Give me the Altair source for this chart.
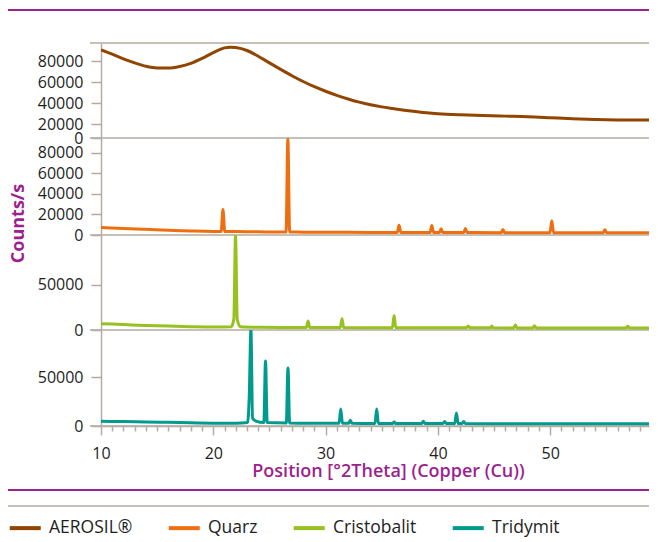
import altair as alt
import pandas as pd

# ---------------- data ----------------
SERIES = ["AEROSIL®", "Quarz", "Cristobalit", "Tridymit"]
COLORS = ["#914500", "#ef6f10", "#97c11f", "#009b8e"]

aerosil_x = [10, 11, 12, 13, 14, 15, 16, 17, 18, 19, 20, 21, 21.5, 22, 23, 24, 25, 26, 27, 28,
             29, 30, 31, 32, 33, 34, 35, 36, 37, 38, 39, 40, 42, 44, 46, 48, 50, 52, 54, 56, 58, 59.6]
aerosil_y = [90500, 86500, 82000, 78200, 75000, 73400, 73300, 74800, 77800, 82500, 88000, 92500,
             93200, 92800, 90000, 84500, 78200, 72000, 66000, 60500, 55500, 51200, 47300, 43800,
             40800, 38300, 36300, 34700, 33200, 31900, 30700, 29800, 28700, 28000, 27500, 27000,
             26000, 24900, 24200, 23800, 23700, 23800]

quarz_x = [10, 12, 14, 16, 18, 20, 20.7, 20.86, 21.02, 22, 24, 26.48, 26.64, 26.8, 28, 30, 32, 34,
           36.38, 36.54, 36.7, 39.3, 39.46, 39.62, 40.14, 40.29, 40.44, 42.3, 42.45, 42.6,
           45.64, 45.79, 45.94, 49.98, 50.14, 50.3, 54.72, 54.87, 55.02, 57, 59.6]
quarz_y = [7300, 6300, 5500, 4700, 4000, 3500, 3400, 24900, 3400, 3300, 3100, 2900, 94000, 2900,
           2800, 2700, 2600, 2500, 2500, 9500, 2500, 2400, 9300, 2400, 2400, 6000, 2400, 2400, 6300,
           2400, 2300, 5400, 2300, 2300, 14000, 2300, 2200, 5000, 2200, 2200, 2200]

cristo_x = [10, 12, 14, 16, 18, 20, 21.6, 21.83, 21.98, 22.13, 22.4, 24, 26, 28.29, 28.44, 28.59, 30,
            31.31, 31.46, 31.61, 33, 35.95, 36.1, 36.25, 38, 42.55, 42.7, 42.85, 44.65, 44.8, 44.95,
            46.75, 46.9, 47.05, 48.45, 48.6, 48.75, 52, 56.75, 56.9, 57.05, 59.6]
cristo_y = [7000, 6000, 5000, 4300, 3700, 3300, 3600, 12000, 104000, 12000, 3600, 3000, 2800, 2800,
            10000, 2800, 2700, 2700, 12500, 2700, 2600, 2600, 15800, 2600, 2500, 2400, 4500, 2400,
            2400, 4300, 2400, 2300, 5600, 2300, 2300, 4800, 2300, 2200, 2200, 4000, 2200, 2200]

tridy_x = [10, 12, 14, 16, 18, 20, 22, 23.05, 23.2, 23.35, 23.5, 23.8, 24.5, 24.65, 24.8, 26.5, 26.65,
           26.8, 28, 30, 31.2, 31.35, 31.5, 32.05, 32.2, 32.35, 34.4, 34.55, 34.7, 35.95, 36.1, 36.25,
           38.55, 38.7, 38.85, 40.45, 40.6, 40.75, 41.5, 41.65, 41.8, 42.15, 42.3, 42.45, 45, 50, 55, 59.6]
tridy_y = [4800, 4500, 4200, 3800, 3300, 2900, 2800, 3500, 30000, 99000, 8000, 5000, 3500, 66700,
           3500, 3000, 59500, 3000, 2800, 2700, 2700, 17500, 2700, 2700, 6000, 2700, 2600, 17500,
           2600, 2600, 4100, 2600, 2600, 5000, 2600, 2600, 4600, 2600, 2600, 13300, 2600, 2600,
           4500, 2500, 2400, 2400, 2300, 2300]

X_DOMAIN = [10, 58.8]
X_TICKS = list(range(10, 59))          # minor ticks every 1, labels at 10, 20, ...
AEROSIL_DOMAIN = [6667, 97143]
AEROSIL_TICKS = [6667, 20000, 40000, 60000, 80000]   # bottom tick is labelled "0"
QUARZ_DOMAIN = [0, 94600]
QUARZ_TICKS = [0, 20000, 40000, 60000, 80000]
CRISTO_DOMAIN = [0, 104400]
CRISTO_TICKS = [0, 50000]
TRIDY_DOMAIN = [0, 98600]
TRIDY_TICKS = [0, 50000]

# ---------------- style ----------------
PURPLE = "#9e1f8e"
GRAY = "#b4aba2"
TEXT = "#1e1e1e"
FONT = "Open Sans"
W = 548

color_scale = alt.Scale(domain=SERIES, range=COLORS)
legend = alt.Legend(title=None, orient="none", legendX=-84.5, legendY=476, direction="horizontal",
                    symbolType="M-3.1,0H3.1", symbolStrokeWidth=4, symbolSize=100,
                    labelFont=FONT, labelFontSize=17.5, labelColor=TEXT, labelOffset=15,
                    columnPadding=28, labelLimit=300)


def y_axis(ticks, label_expr=None, **extra):
    kw = dict(values=ticks, format="d", grid=False, domainColor=GRAY, domainWidth=1.5,
              tickColor=GRAY, tickWidth=1.5, tickSize=10, labelPadding=8, labelFont=FONT,
              labelFontSize=16, labelColor=TEXT, labelOverlap=False)
    if label_expr:
        kw["labelExpr"] = label_expr
    kw.update(extra)
    if "title" not in kw:
        kw["title"] = None
    return alt.Axis(**kw)


def panel(name, xs, ys, ydomain, yaxis, h, xaxis=None, top_rule=False, extra_layers=()):
    df = pd.DataFrame({"x": xs, "y": ys, "series": name})
    xs_scale = alt.Scale(domain=X_DOMAIN, nice=False, zero=False)
    ys_scale = alt.Scale(domain=ydomain, nice=False, zero=False)
    rule_vals = [ydomain[0], ydomain[1]] if top_rule else [ydomain[0]]
    frame_rule = alt.Chart(pd.DataFrame({"y": rule_vals})).mark_rule(
        color=GRAY, strokeWidth=1.5).encode(
        y=alt.Y("y:Q", scale=ys_scale, axis=yaxis), x=alt.value(-11), x2=alt.value(W))
    line = alt.Chart(df).mark_line(strokeWidth=3, interpolate="monotone", clip=True).encode(
        x=alt.X("x:Q", scale=xs_scale, axis=xaxis),
        y=alt.Y("y:Q", scale=ys_scale, axis=yaxis),
        color=alt.Color("series:N", scale=color_scale, legend=legend),
    )
    return alt.layer(frame_rule, *extra_layers, line).properties(width=W, height=h)


# top decoration (AEROSIL panel)
top_purple = alt.Chart(pd.DataFrame({"a": [0]})).mark_rule(color=PURPLE, strokeWidth=2).encode(
    x=alt.value(-93.5), x2=alt.value(W), y=alt.value(-33))

# bottom decorations (Tridymit panel)
bot_purple = alt.Chart(pd.DataFrame({"a": [0]})).mark_rule(color=PURPLE, strokeWidth=2).encode(
    x=alt.value(-93.5), x2=alt.value(W), y=alt.value(160))
bot_gray = alt.Chart(pd.DataFrame({"a": [0]})).mark_rule(color=GRAY, strokeWidth=1.5).encode(
    x=alt.value(-93.5), x2=alt.value(W), y=alt.value(176))

x_axis = alt.Axis(
    values=X_TICKS, labelExpr="datum.value % 10 === 0 ? datum.label : ''", format="d",
    tickSize={"condition": {"test": "datum.value % 10 === 0", "value": 9}, "value": 5},
    tickColor=GRAY, tickWidth=1.5, domainColor=GRAY, domainWidth=1.5, grid=False,
    labelPadding=10, labelFont=FONT, labelFontSize=16, labelColor=TEXT,
    labelFlush=False, labelOverlap=False,
    title="Position [°2Theta] (Copper (Cu))", titleX=287, titleY=50, titleAlign="center",
    titleBaseline="alphabetic", titleFont=FONT, titleFontSize=18, titleFontWeight=600,
    titleColor=PURPLE,
)

p1 = panel(SERIES[0], aerosil_x, aerosil_y, AEROSIL_DOMAIN,
           y_axis(AEROSIL_TICKS, "datum.value < 10000 ? '0' : datum.label"), 95,
           top_rule=True, extra_layers=(top_purple,))
p2 = panel(SERIES[1], quarz_x, quarz_y, QUARZ_DOMAIN,
           y_axis(QUARZ_TICKS, title="Counts/s", titleX=-82.5, titleY=85, titleAngle=270,
                  titleAlign="center", titleBaseline="middle", titleFont=FONT,
                  titleFontSize=18, titleFontWeight="bold", titleColor=PURPLE), 97)
p3 = panel(SERIES[2], cristo_x, cristo_y, CRISTO_DOMAIN, y_axis(CRISTO_TICKS), 95)
p4 = panel(SERIES[3], tridy_x, tridy_y, TRIDY_DOMAIN, y_axis(TRIDY_TICKS), 96,
           xaxis=x_axis, extra_layers=(bot_purple, bot_gray))

chart = alt.vconcat(p1, p2, p3, p4, spacing=0, bounds="flush").properties(
    padding={"left": -2, "top": 1, "right": 0, "bottom": 0}
).configure_view(stroke=None)

chart.save("out.html", embed_options={"renderer": "svg", "actions": False})
